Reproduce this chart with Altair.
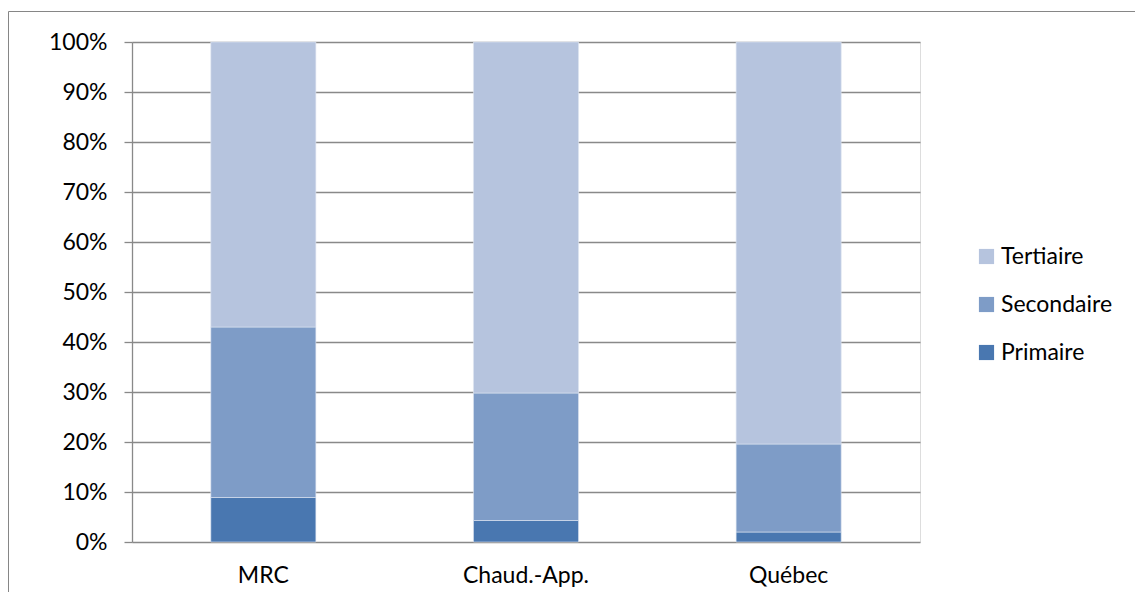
import altair as alt
import pandas as pd

regions = ["MRC", "Chaud.-App.", "Québec"]
sectors = ["Primaire", "Secondaire", "Tertiaire"]
primaire = [8.9, 4.3, 2.0]
secondaire = [34.1, 25.5, 17.6]
tertiaire = [57.0, 70.2, 80.4]
y_ticks = [0, 10, 20, 30, 40, 50, 60, 70, 80, 90, 100]
colors = ["#4977B0", "#7E9CC7", "#B6C4DE"]

rows = []
for i, r in enumerate(regions):
    for k, (s, vals) in enumerate(zip(sectors, [primaire, secondaire, tertiaire])):
        rows.append({"region": r, "secteur": s, "valeur": vals[i], "ordre": k})
df = pd.DataFrame(rows)

FONT = "Lato"
GRID = "#898989"

bars = alt.Chart(df).mark_bar(stroke="#dfe6f1", strokeWidth=0.6).encode(
    x=alt.X("region:N", sort=regions, title=None,
            scale=alt.Scale(paddingInner=0.6, paddingOuter=0.3),
            axis=alt.Axis(labelAngle=0, ticks=False, domain=False, labelFontSize=23,
                          labelFont=FONT, labelColor="#000000", labelPadding=22,
                          grid=False)),
    y=alt.Y("valeur:Q", stack="zero", title=None,
            scale=alt.Scale(domain=[0, 100], nice=False),
            axis=alt.Axis(values=y_ticks, labelExpr="datum.value + '%'",
                          labelFontSize=23, labelFont=FONT, labelColor="#000000",
                          tickSize=8, tickColor=GRID, tickWidth=1.3,
                          domainColor=GRID, domainWidth=1.3,
                          gridColor=GRID, gridWidth=1.3, labelPadding=17)),
    color=alt.Color("secteur:N",
                    scale=alt.Scale(domain=["Tertiaire", "Secondaire", "Primaire"],
                                    range=[colors[2], colors[1], colors[0]]),
                    legend=alt.Legend(title=None, orient="none", legendX=843, legendY=203,
                                      symbolType="square", symbolSize=230,
                                      symbolStrokeWidth=0, labelFontSize=23,
                                      labelFont=FONT, labelColor="#000000",
                                      rowPadding=24, labelOffset=3)),
    order=alt.Order("ordre:Q", sort="ascending"),
)

border_data = alt.Data(values=[{"a": 1}])
left_border = alt.Chart(border_data).mark_rule(color="#868686", strokeWidth=1).encode(
    x=alt.value(-123.5), y=alt.value(-30.5), y2=alt.value(620))
top_border = alt.Chart(border_data).mark_rule(color="#868686", strokeWidth=1).encode(
    x=alt.value(-123.5), x2=alt.value(1100), y=alt.value(-30.5))

chart = alt.layer(bars, left_border, top_border).properties(
    width=788, height=500,
    padding={"left": 124, "top": 34, "right": 215, "bottom": 70},
    autosize=alt.AutoSizeParams(type="none"),
).configure_view(stroke=None).configure(background="white")

chart.save("out.html", embed_options={"renderer": "svg", "actions": False})
